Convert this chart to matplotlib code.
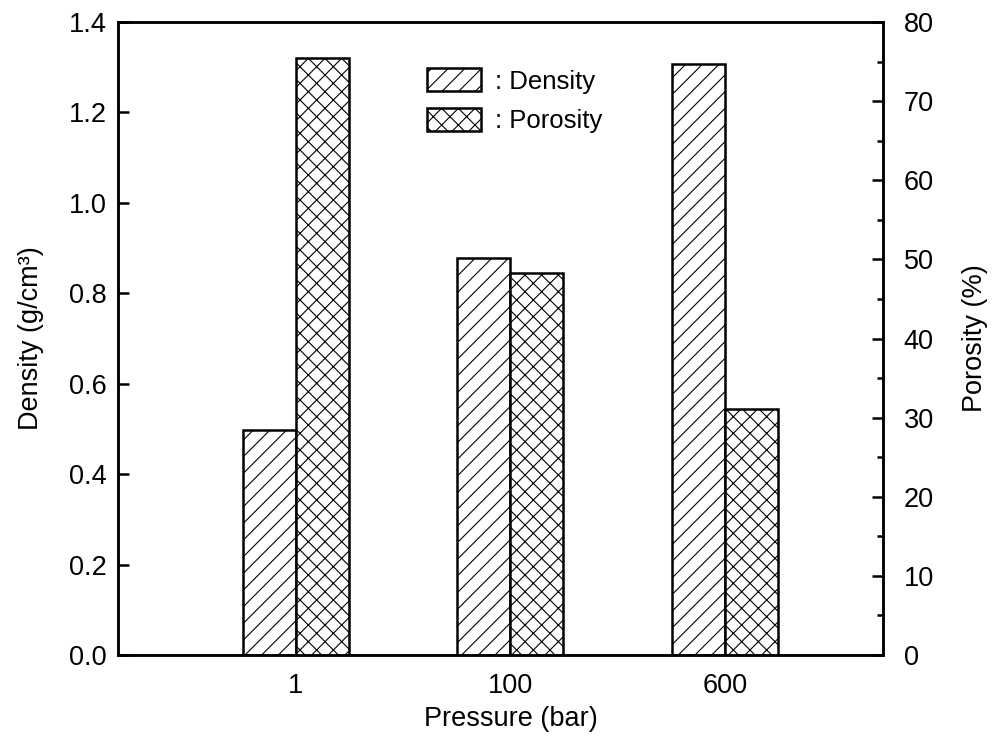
import matplotlib
matplotlib.use("Agg")
import matplotlib.pyplot as plt
import numpy as np
from matplotlib.patches import Patch
from matplotlib.ticker import MultipleLocator, FormatStrFormatter

plt.rcParams['font.family'] = ['Liberation Sans', 'DejaVu Sans']
plt.rcParams['hatch.linewidth'] = 0.8

categories = ['1', '100', '600']
density = [0.497, 0.878, 1.307]
porosity = [75.4, 48.3, 31.1]

FS = 19.5

fig = plt.figure(figsize=(9.94, 7.37), dpi=100)
ax = fig.add_axes([0.1187, 0.1113, 0.7696, 0.8588])
ax2 = ax.twinx()

x = np.arange(len(categories))
w = 0.247
ax.bar(x - w/2, density, w, facecolor='white', edgecolor='black', linewidth=1.8, hatch='//')
ax2.bar(x + w/2, porosity, w, facecolor='white', edgecolor='black', linewidth=1.8, hatch='xx')

ax.set_xlim(-0.828, 2.735)
ax.set_ylim(0, 1.4)
ax2.set_ylim(0, 80)
ax.set_xticks(x)
ax.set_xticklabels(categories)
ax.tick_params(axis='x', length=0, labelsize=FS, pad=13)
ax.yaxis.set_major_locator(MultipleLocator(0.2))
ax.yaxis.set_major_formatter(FormatStrFormatter('%.1f'))
ax.tick_params(axis='y', direction='in', length=8, width=1.8, labelsize=FS, pad=8)
ax2.yaxis.set_major_locator(MultipleLocator(10))
ax2.yaxis.set_minor_locator(MultipleLocator(5))
ax2.tick_params(axis='y', which='major', direction='in', length=8, width=1.8, labelsize=FS, pad=15)
ax2.tick_params(axis='y', which='minor', direction='in', length=4, width=1.8)

for a in (ax, ax2):
    for s in a.spines.values():
        s.set_linewidth(1.8)

ax.set_xlabel('Pressure (bar)', fontsize=FS, labelpad=5)
ax.xaxis.label.set_x((511 - 118) / 765)
ax.set_ylabel('Density (g/cm³)', fontsize=FS, labelpad=18)
ax2.set_ylabel('Porosity (%)', fontsize=FS, labelpad=20)

handles = [Patch(facecolor='white', edgecolor='black', linewidth=1.8, hatch='//'),
           Patch(facecolor='white', edgecolor='black', linewidth=1.8, hatch='xx')]
ax.legend(handles, [': Density', ': Porosity'], loc='upper left', bbox_to_anchor=(0.404, 0.927),
          borderpad=0, borderaxespad=0,
          frameon=False, fontsize=18.5, handlelength=2.1, handleheight=1.0, handletextpad=0.55,
          labelspacing=0.55)

fig.savefig('out.png', dpi=100)
